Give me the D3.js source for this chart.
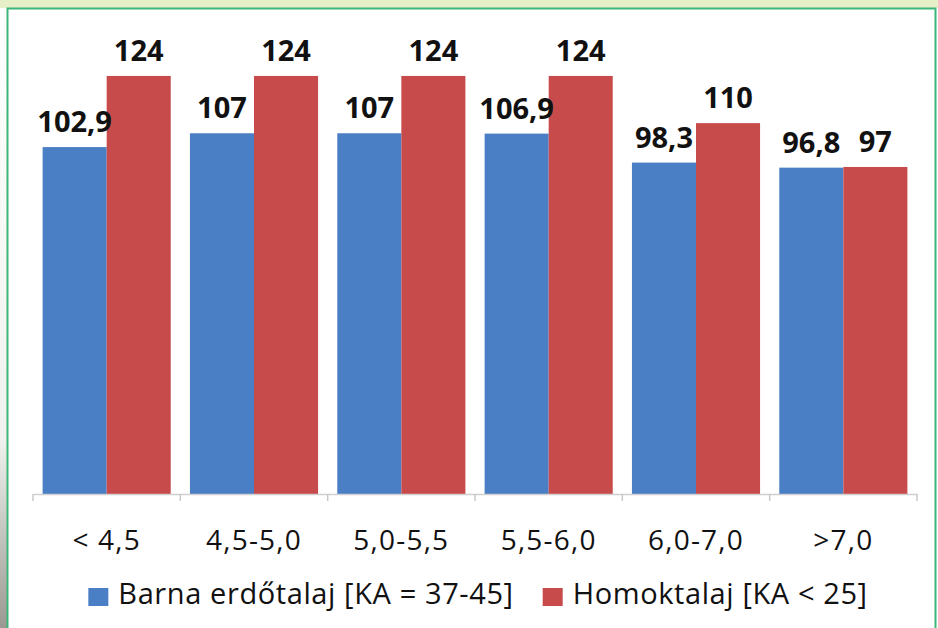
<!DOCTYPE html>
<html>
<head>
<meta charset="utf-8">
<script src="https://cdn.jsdelivr.net/npm/d3@7"></script>
<style>
  html, body { margin: 0; padding: 0; background: #fff; }
  svg { display: block; }
</style>
</head>
<body>
<div id="chart"></div>
<script>
const categories = ["< 4,5", "4,5-5,0", "5,0-5,5", "5,5-6,0", "6,0-7,0", ">7,0"];
const seriesNames = ["Barna erdőtalaj [KA = 37-45]", "Homoktalaj [KA < 25]"];
const barnaValues = [102.9, 107, 107, 106.9, 98.3, 96.8];
const homokValues = [124, 124, 124, 124, 110, 97];
const seriesColors = ["#4a7fc6", "#c84b4b"];

const fmtVal = v => String(v).replace(".", ",");

const W = 938, H = 628;
const svg = d3.select("#chart").append("svg").attr("width", W).attr("height", H);

// háttér: felső sáv + zöld keret
svg.append("rect").attr("x", 0).attr("y", 0).attr("width", W).attr("height", H).attr("fill", "#ffffff");
const defs = svg.append("defs");
const grad = defs.append("linearGradient").attr("id", "leftbg").attr("x1", 0).attr("y1", 0).attr("x2", 0).attr("y2", 1);
grad.append("stop").attr("offset", "0%").attr("stop-color", "#ffffff");
grad.append("stop").attr("offset", "70%").attr("stop-color", "#f1f1ee");
grad.append("stop").attr("offset", "100%").attr("stop-color", "#9a9a92");
svg.append("rect").attr("x", 0).attr("y", 0).attr("width", 7).attr("height", H).attr("fill", "url(#leftbg)");
svg.append("rect").attr("x", 0).attr("y", 0).attr("width", W).attr("height", 8).attr("fill", "#e6efc8");
svg.append("path")
  .attr("d", `M7.5,${H} V8.5 H935.5 V${H}`)
  .attr("fill", "none").attr("stroke", "#3db67a").attr("stroke-width", 2);

// skálák
const plotL = 33, plotR = 917, baseY = 494, topY = 22;
const x0 = d3.scaleBand().domain(categories).range([plotL, plotR]).paddingInner(0).paddingOuter(0);
const x1 = d3.scaleBand().domain(seriesNames).range([0, x0.bandwidth()]).paddingInner(0).paddingOuter(0.15);
const y = d3.scaleLinear().domain([0, 140]).range([baseY, topY]);

const rows = categories.map((c, i) => ({
  cat: c,
  vals: [
    { s: seriesNames[0], v: barnaValues[i], color: seriesColors[0] },
    { s: seriesNames[1], v: homokValues[i], color: seriesColors[1] }
  ]
}));

const groups = svg.append("g").selectAll("g.grp")
  .data(rows)
  .join("g").attr("class", "grp")
  .attr("transform", d => `translate(${x0(d.cat)},0)`);

groups.selectAll("rect")
  .data(d => d.vals)
  .join("rect")
  .attr("x", d => x1(d.s))
  .attr("y", d => y(d.v))
  .attr("width", x1.bandwidth())
  .attr("height", d => baseY - y(d.v))
  .attr("fill", d => d.color);

groups.selectAll("text.val")
  .data(d => d.vals)
  .join("text").attr("class", "val")
  .attr("x", d => x1(d.s) + x1.bandwidth() / 2)
  .attr("y", d => y(d.v) - 15)
  .attr("text-anchor", "middle")
  .style("font-family", "'Open Sans', sans-serif")
  .style("font-weight", 700)
  .style("font-size", "29px")
  .style("fill", "#111")
  .text(d => fmtVal(d.v));

// x tengely
const axis = svg.append("g")
  .attr("transform", `translate(0,${baseY})`)
  .call(d3.axisBottom(x0).tickSize(0).tickPadding(56));
axis.select(".domain").attr("stroke", "#d0d0d0").attr("stroke-width", 1.5);
axis.selectAll(".tick text")
  .style("font-family", "'Open Sans', sans-serif")
  .style("font-size", "28px")
  .style("letter-spacing", "1.2px")
  .style("fill", "#111")
  .attr("dy", "0");
const edges = categories.map(c => x0(c)).concat([plotR]);
axis.selectAll("line.edge")
  .data(edges)
  .join("line").attr("class", "edge")
  .attr("x1", d => d).attr("x2", d => d)
  .attr("y1", 0).attr("y2", 7)
  .attr("stroke", "#c8c8c8").attr("stroke-width", 1.5);

// jelmagyarázat
const legend = svg.append("g");
const items = legend.selectAll("g.item")
  .data(seriesNames)
  .join("g").attr("class", "item");
items.append("rect")
  .attr("width", 20).attr("height", 18)
  .attr("y", -16)
  .attr("fill", (d, i) => seriesColors[i]);
items.append("text")
  .attr("x", 30).attr("y", 0)
  .style("font-family", "'Open Sans', sans-serif")
  .style("font-size", "29px")
  .style("letter-spacing", "0.6px")
  .style("fill", "#111")
  .text(d => d);

const gap = 29;
let widths = [];
items.each(function () { widths.push(30 + this.querySelector("text").getComputedTextLength()); });
const total = d3.sum(widths) + gap * (widths.length - 1);
let cx = (plotL + plotR) / 2 + 3 - total / 2;
items.attr("transform", (d, i) => {
  const t = `translate(${cx},604)`;
  cx += widths[i] + gap;
  return t;
});
</script>
</body>
</html>
